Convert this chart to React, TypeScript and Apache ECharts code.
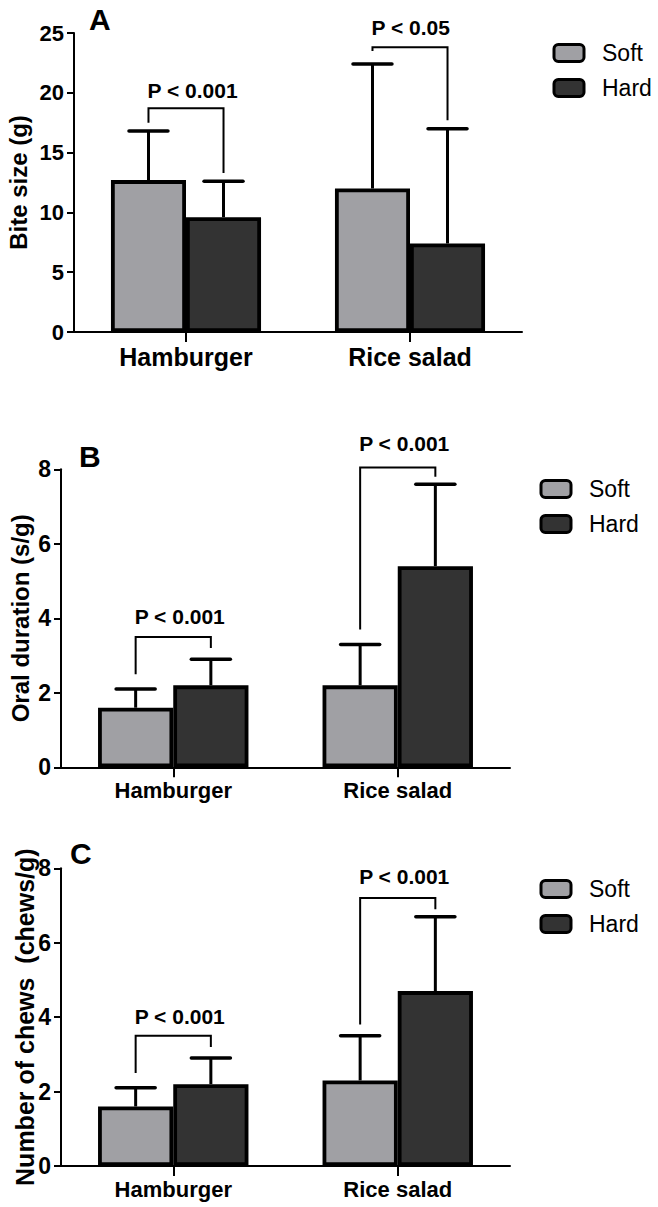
import React, { useEffect, useRef } from "react";
import * as echarts from "echarts";

const FONT = "'Liberation Sans', Arial, Helvetica, sans-serif";

const categories = ["Hamburger", "Rice salad"];
const seriesNames = ["Soft", "Hard"];

// Panel A – bite size (g)
const biteTicks = [0, 5, 10, 15, 20, 25];
const biteSoft = [12.7, 12.0];
const biteSoftSD = [4.1, 10.4];
const biteHard = [9.6, 7.4];
const biteHardSD = [3.0, 9.6];
// [category, bracket top, left leg bottom, right leg bottom, label y]
const biteBrackets = [
  [0, 18.7, 17.5, 13.3, 20.2],
  [1, 23.8, 23.5, 17.7, 25.5],
];
const biteP = ["P < 0.001", "P < 0.05"];

// Panel B – oral duration (s/g)
const oralTicks = [0, 2, 4, 6, 8];
const oralSoft = [1.6, 2.2];
const oralSoftSD = [0.5, 1.1];
const oralHard = [2.2, 5.4];
const oralHardSD = [0.7, 2.2];
const oralBrackets = [
  [0, 3.5, 2.5, 3.2, 4.05],
  [1, 8.05, 3.7, 7.8, 8.7],
];
const oralP = ["P < 0.001", "P < 0.001"];

// Panel C – number of chews (chews/g)
const chewTicks = [0, 2, 4, 6, 8];
const chewSoft = [1.6, 2.3];
const chewSoftSD = [0.5, 1.2];
const chewHard = [2.2, 4.7];
const chewHardSD = [0.7, 2.0];
const chewBrackets = [
  [0, 3.5, 2.5, 3.2, 4.03],
  [1, 7.2, 3.8, 6.9, 7.78],
];
const chewP = ["P < 0.001", "P < 0.001"];

const SOFT_COLOR = "#a0a0a4";
const HARD_COLOR = "#333333";
const OFFSET = 0.1675; // bar centre offset as fraction of the band

function errorRenderer(sign: number) {
  return (params: any, api: any) => {
    const cat = api.value(0);
    const mean = api.value(1);
    const sd = api.value(2);
    const base = api.coord([cat, mean]);
    const top = api.coord([cat, mean + sd]);
    const band = api.size([1, 0])[0];
    const x = base[0] + sign * band * OFFSET;
    const cap = band * 0.087;
    return {
      type: "group",
      children: [
        {
          type: "line",
          shape: { x1: x, y1: base[1], x2: x, y2: top[1] },
          style: { stroke: "#000", lineWidth: 3 },
        },
        {
          type: "line",
          shape: { x1: x - cap, y1: top[1], x2: x + cap, y2: top[1] },
          style: { stroke: "#000", lineWidth: 3.5, lineCap: "round" },
        },
      ],
    };
  };
}

function bracketRenderer(labels: string[]) {
  return (params: any, api: any) => {
    const cat = api.value(0);
    const band = api.size([1, 0])[0];
    const c = api.coord([cat, api.value(1)]);
    const xl = c[0] - band * OFFSET;
    const xr = c[0] + band * OFFSET;
    const yTop = c[1];
    const yl = api.coord([cat, api.value(2)])[1];
    const yr = api.coord([cat, api.value(3)])[1];
    const ty = api.coord([cat, api.value(4)])[1];
    return {
      type: "group",
      children: [
        {
          type: "polyline",
          shape: { points: [[xl, yl], [xl, yTop], [xr, yTop], [xr, yr]] },
          style: { stroke: "#000", lineWidth: 2, fill: null },
        },
        {
          type: "text",
          x: xl - 1,
          y: ty,
          style: {
            text: labels[params.dataIndex],
            fontSize: 21,
            fontWeight: "bold",
            fontFamily: FONT,
            fill: "#000",
            align: "left",
            verticalAlign: "middle",
          },
        },
      ],
    };
  };
}

type Panel = {
  grid: any;
  ticks: number[];
  name: string;
  nameGap: number;
  nameSize: number;
  tickSize: number;
  catSize: number;
  soft: number[];
  softSD: number[];
  hard: number[];
  hardSD: number[];
  brackets: number[][];
  pLabels: string[];
  legend: { left: number; top: number };
  letter: { text: string; x: number; y: number };
};

const panels: Panel[] = [
  {
    grid: { left: 74, top: 33, width: 448, height: 299 },
    ticks: biteTicks,
    name: "Bite size (g)",
    nameGap: 44,
    nameSize: 24,
    tickSize: 22,
    catSize: 25,
    soft: biteSoft,
    softSD: biteSoftSD,
    hard: biteHard,
    hardSD: biteHardSD,
    brackets: biteBrackets,
    pLabels: biteP,
    legend: { left: 552.5, top: 41.5 },
    letter: { text: "A", x: 89, y: 19 },
  },
  {
    grid: { left: 61, top: 469.3, width: 449, height: 298 },
    ticks: oralTicks,
    name: "Oral duration (s/g)",
    nameGap: 29,
    nameSize: 24,
    tickSize: 23,
    catSize: 22,
    soft: oralSoft,
    softSD: oralSoftSD,
    hard: oralHard,
    hardSD: oralHardSD,
    brackets: oralBrackets,
    pLabels: oralP,
    legend: { left: 539.5, top: 477.5 },
    letter: { text: "B", x: 79, y: 456 },
  },
  {
    grid: { left: 61, top: 868.3, width: 449, height: 297.7 },
    ticks: chewTicks,
    name: "Number of chews  (chews/g)",
    nameGap: 24,
    nameSize: 25,
    tickSize: 23,
    catSize: 22,
    soft: chewSoft,
    softSD: chewSoftSD,
    hard: chewHard,
    hardSD: chewHardSD,
    brackets: chewBrackets,
    pLabels: chewP,
    legend: { left: 539.5, top: 877.5 },
    letter: { text: "C", x: 70, y: 853 },
  },
];

function buildOption() {
  const grid: any[] = [];
  const xAxis: any[] = [];
  const yAxis: any[] = [];
  const series: any[] = [];
  const legend: any[] = [];
  const graphic: any[] = [];

  panels.forEach((p, i) => {
    grid.push({ ...p.grid, containLabel: false, outerBoundsMode: "none" });
    xAxis.push({
      type: "category",
      gridIndex: i,
      data: categories,
      axisLine: { lineStyle: { color: "#000", width: 2 } },
      axisTick: {
        show: true,
        alignWithLabel: true,
        length: 10,
        lineStyle: { color: "#000", width: 2 },
      },
      axisLabel: {
        color: "#000",
        fontSize: p.catSize,
        fontWeight: "bold",
        fontFamily: FONT,
        margin: 12,
      },
      splitLine: { show: false },
    });
    const tmin = p.ticks[0];
    const tmax = p.ticks[p.ticks.length - 1];
    yAxis.push({
      type: "value",
      gridIndex: i,
      min: tmin,
      max: tmax,
      interval: p.ticks[1] - p.ticks[0],
      name: p.name,
      nameLocation: "middle",
      nameRotate: 90,
      nameGap: p.nameGap,
      nameMoveOverlap: false,
      nameTextStyle: {
        color: "#000",
        fontSize: p.nameSize,
        fontWeight: "bold",
        fontFamily: FONT,
      },
      axisLine: { show: true, lineStyle: { color: "#000", width: 2 } },
      axisTick: { show: true, length: 7, lineStyle: { color: "#000", width: 2 } },
      axisLabel: {
        color: "#000",
        fontSize: p.tickSize,
        fontWeight: "bold",
        fontFamily: FONT,
        margin: 10,
      },
      splitLine: { show: false },
    });
    series.push(
      {
        type: "bar",
        name: seriesNames[0],
        xAxisIndex: i,
        yAxisIndex: i,
        data: p.soft,
        barGap: "0%",
        barCategoryGap: "33%",
        itemStyle: { color: SOFT_COLOR, borderColor: "#000", borderWidth: 3.8 },
        z: 2,
      },
      {
        type: "bar",
        name: seriesNames[1],
        xAxisIndex: i,
        yAxisIndex: i,
        data: p.hard,
        barGap: "0%",
        barCategoryGap: "33%",
        itemStyle: { color: HARD_COLOR, borderColor: "#000", borderWidth: 3.8 },
        z: 2,
      },
      {
        type: "custom",
        name: "Soft SD",
        xAxisIndex: i,
        yAxisIndex: i,
        clip: false,
        z: 3,
        renderItem: errorRenderer(-1),
        data: p.soft.map((m, k) => [k, m, p.softSD[k]]),
      },
      {
        type: "custom",
        name: "Hard SD",
        xAxisIndex: i,
        yAxisIndex: i,
        clip: false,
        z: 3,
        renderItem: errorRenderer(1),
        data: p.hard.map((m, k) => [k, m, p.hardSD[k]]),
      },
      {
        type: "custom",
        name: "Significance",
        xAxisIndex: i,
        yAxisIndex: i,
        clip: false,
        z: 4,
        renderItem: bracketRenderer(p.pLabels),
        data: p.brackets,
      }
    );
    legend.push({
      data: seriesNames,
      orient: "vertical",
      left: p.legend.left,
      top: p.legend.top,
      padding: 0,
      itemGap: 12,
      itemWidth: 30,
      itemHeight: 17,
      icon: "roundRect",
      selectedMode: false,
      itemStyle: { borderColor: "#000", borderWidth: 3 },
      textStyle: {
        color: "#000",
        fontSize: 23,
        lineHeight: 23,
        fontFamily: FONT,
        padding: [0, 0, 0, 13],
      },
    });
    graphic.push({
      type: "text",
      left: p.letter.x,
      top: p.letter.y - 15,
      style: {
        text: p.letter.text,
        fontSize: 30,
        fontWeight: "bold",
        fontFamily: FONT,
        fill: "#000",
      },
    });
  });

  return {
    animation: false,
    backgroundColor: "#fff",
    grid,
    xAxis,
    yAxis,
    series,
    legend,
    graphic,
  };
}

export default function App() {
  const ref = useRef<HTMLDivElement>(null);
  useEffect(() => {
    document.body.style.margin = "0";
    if (!ref.current) return;
    const chart = echarts.init(ref.current, undefined, { renderer: "svg" });
    chart.setOption(buildOption() as any);
    return () => chart.dispose();
  }, []);
  return <div ref={ref} style={{ width: 658, height: 1207 }} />;
}
